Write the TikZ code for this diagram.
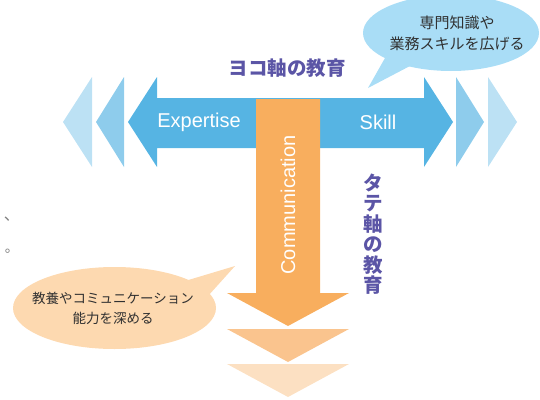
\documentclass[tikz,border=0pt]{standalone}
\usepackage{fontspec}
\setmainfont{Liberation Sans}
\newfontfamily\jp{Noto Sans CJK JP}
\definecolor{ablue}{HTML}{56B4E3}
\definecolor{ablueA}{HTML}{8ECCEC}
\definecolor{ablueB}{HTML}{BCE1F4}
\definecolor{bblue}{HTML}{A9DDF6}
\definecolor{aorng}{HTML}{F8AE5E}
\definecolor{aorngA}{HTML}{FAC48E}
\definecolor{aorngB}{HTML}{FCE0C2}
\definecolor{borng}{HTML}{FDD9B0}
\definecolor{ttl}{HTML}{5B55A6}
\definecolor{txt}{HTML}{303030}
\begin{document}
\begin{tikzpicture}[x=1pt,y=-1pt,
  arrlabel/.style={text=white,font=\fontsize{20}{24}\selectfont,inner sep=0pt},
  bubtext/.style={text=txt,align=center,inner sep=0pt},
  title/.style={text=ttl,font=\jp\bfseries\fontsize{19.5}{20.5}\selectfont,inner sep=0pt},
  frag/.style={text=gray,inner sep=0pt}]
\useasboundingbox (0,0) rectangle (540,399);
% top speech bubble
\fill[bblue] (451,33) ellipse [x radius=88, y radius=38];
\fill[bblue] (385,58) -- (368,88) -- (410,66) -- cycle;
\node[bubtext,font=\jp\fontsize{15}{21}\selectfont] (bt) at (457,33) {専門知識や\\業務スキルを広げる};
% bottom speech bubble
\fill[borng] (114.5,308) ellipse [x radius=101.5, y radius=41];
\fill[borng] (185,281) -- (235,266) -- (208,296) -- cycle;
\node[bubtext,font=\jp\fontsize{13.5}{20}\selectfont] (bb) at (113,308) {教養やコミュニケーション\\能力を深める};
% horizontal ghost heads
\fill[ablueB] (92,77) -- (63,122) -- (92,167) -- cycle;
\fill[ablueA] (124,77) -- (96,122) -- (124,167) -- cycle;
\fill[ablueA] (456,77) -- (484,122) -- (456,167) -- cycle;
\fill[ablueB] (488,77) -- (517,122) -- (488,167) -- cycle;
% horizontal double arrow
\fill[ablue] (157,98) -- (424,98) -- (424,77) -- (453,122) -- (424,167) -- (424,148)
  -- (157,148) -- (157,167) -- (128,122) -- (157,77) -- cycle;
% vertical arrow
\fill[aorng] (256,99) -- (320,99) -- (320,293) -- (349,293) -- (288,326) -- (227,293) -- (256,293) -- cycle;
\fill[aorngA] (227,329) -- (349,329) -- (288,362) -- cycle;
\fill[aorngB] (227,364) -- (349,364) -- (288,397) -- cycle;
% labels
\node[arrlabel] (ex) at (199,122) {Expertise};
\node[arrlabel] (sk) at (378,122) {Skill};
\node[arrlabel,rotate=90] (co) at (288,205) {Communication};
\node[title] (yoko) at (287,68) {ヨコ軸の教育};
\node[title,align=center] (tate) at (373,234) {タ\\テ\\軸\\の\\教\\育};
% fragments at left edge
\node[frag,font=\jp\fontsize{16}{16}\selectfont] (f1) at (12,219) {、};
\node[frag,font=\jp\fontsize{14}{14}\selectfont] (f2) at (12,251) {。};
\end{tikzpicture}
\end{document}
